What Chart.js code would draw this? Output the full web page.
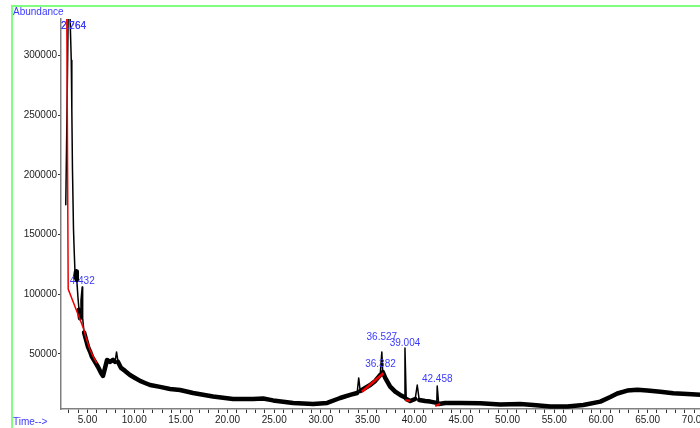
<!DOCTYPE html>
<html lang="en">
<head>
<meta charset="UTF-8" />
<title>TIC chromatogram</title>
<script src="https://cdn.jsdelivr.net/npm/chart.js@4.4.1/dist/chart.umd.min.js"></script>
<style>
  html, body { margin: 0; padding: 0; background: #fff; overflow: hidden; }
  #wrap { width: 700px; height: 428px; overflow: hidden; }
</style>
</head>
<body>
<div id="wrap"><canvas id="tic" width="730" height="428"></canvas></div>
<script>
// retention time (min) and abundance of the total ion trace
const traceTime = [
  2.67, 2.75, 2.87, 2.93, 3.12, 3.26, 3.32, 3.39, 3.50, 3.58,
  3.68, 3.77, 3.85, 3.98, 4.09, 4.20, 4.30, 4.43, 4.48, 4.63,
  4.84, 5.05, 5.27, 5.48, 5.80, 6.13, 6.45, 6.66, 6.88, 7.09,
  7.41, 7.73, 7.95, 8.11, 8.27, 8.59, 9.02, 9.55, 10.09, 10.63,
  11.16, 11.70, 12.77, 13.84, 14.91, 16.31, 18.45, 20.59, 22.74, 23.81,
  24.88, 27.03, 29.17, 30.67, 32.06, 33.13, 33.88, 34.05, 34.21, 34.74,
  35.28, 35.82, 36.35, 36.527, 36.62, 36.89, 37.42, 37.96, 38.49, 38.92,
  39.004, 39.14, 39.57, 40.10, 40.32, 40.53, 41.17, 41.71, 42.41, 42.458,
  42.62, 43.32, 44.93, 47.07, 49.21, 51.36, 52.75, 54.57, 56.40, 58.11,
  59.93, 61.00, 61.75, 62.82, 63.90, 64.97, 66.36, 67.75, 69.25, 70.65,
  72.00
]
const traceAbund = [
  175000, 221000, 296000, 335000, 335000, 296000, 254000, 204000, 154000, 135000,
  114000, 119000, 112000, 97000, 87000, 80000, 95000, 106000, 80000, 68000,
  62000, 56000, 52000, 47500, 43300, 39100, 34100, 31600, 38300, 45000,
  43300, 45000, 43300, 51700, 43300, 38300, 35800, 32400, 29900, 27400,
  25700, 24000, 22400, 20700, 19800, 17300, 14400, 12300, 12300, 12700,
  11100, 9000, 8100, 9000, 13100, 15700, 17300, 29900, 19000, 21500,
  24000, 27400, 32400, 51700, 34900, 29900, 22600, 18400, 15700, 14000,
  55000, 12300, 10600, 12300, 24000, 11500, 10600, 10100, 9000, 23200,
  8100, 9000, 9000, 8700, 7700, 8100, 7300, 6000, 5900, 7300,
  10100, 14000, 16900, 19300, 20100, 19300, 18400, 17100, 16500, 15900,
  15700
]

// integration baselines (red)
const base1Time = [2.78, 2.93, 4.55, 4.84, 5.27, 5.70, 6.00]
const base1Abund = [335000, 104400, 71800, 63500, 53500, 46500, 42200]
const base2Time = [34.39, 36.70]
const base2Abund = [18400, 33800]
const base3Time = [39.03, 39.57]
const base3Abund = [11500, 10600]
const base4Time = [42.24, 42.78]
const base4Abund = [6400, 8100]

// peak labels and the abundance they sit at
const peakLabels = ['2.264', '2.764', '4.432', '36.382', '36.527', '39.004', '42.458']
const peakLabelAbund = [324100, 324100, 111100, 41400, 64000, 59000, 28800]

const xTickLabels = ['5.00', '10.00', '15.00', '20.00', '25.00', '30.00', '35.00',
  '40.00', '45.00', '50.00', '55.00', '60.00', '65.00', '70.00']
const yTickLabels = ['50000', '100000', '150000', '200000', '250000', '300000']

const xMin = 2.16, xMax = 72
const yMin = 3900, yMax = 330500

const FONT = '"Liberation Sans", Arial, sans-serif'
const BLUE = '#3a3aff'

function pts(ts, as) {
  return ts.map((t, i) => ({ x: t, y: as[i] }))
}

const frameAndText = {
  id: 'frameAndText',
  beforeDraw(chart) {
    const c = chart.ctx
    c.save()
    c.fillStyle = '#fff'
    c.fillRect(0, 0, chart.width, chart.height)
    c.fillStyle = '#80ff80'
    c.fillRect(12, 5, chart.width, 2)
    c.fillRect(11, 5, 2, chart.height)
    c.restore()
  },
  afterDraw(chart) {
    const c = chart.ctx
    const area = chart.chartArea
    const xs = chart.scales.x
    const ys = chart.scales.y
    c.save()
    c.font = '10px ' + FONT
    c.fillStyle = BLUE
    c.textBaseline = 'middle'
    c.textAlign = 'left'
    c.fillText('Abundance', 13, 12.5)
    c.fillText('Time-->', 13, 422)
    peakLabels.forEach((lab, i) => {
      const w = c.measureText(lab).width
      let px = xs.getPixelForValue(parseFloat(lab)) - w / 2
      px = Math.max(px, area.left)
      c.fillText(lab, px, ys.getPixelForValue(peakLabelAbund[i]))
    })
    c.restore()
  }
}

new Chart(document.getElementById('tic'), {
  type: 'line',
  data: {
    datasets: [
      { data: pts(base1Time, base1Abund), borderColor: '#ee0000', borderWidth: 1.5, order: 0 },
      { data: pts(base2Time, base2Abund), borderColor: '#ee0000', borderWidth: 2.5, order: 0 },
      { data: pts(base3Time, base3Abund), borderColor: '#ee0000', borderWidth: 2, order: 0 },
      { data: pts(base4Time, base4Abund), borderColor: '#ee0000', borderWidth: 2, order: 0 },
      {
        data: pts(traceTime, traceAbund),
        borderColor: '#000',
        borderWidth: 4.5,
        borderCapStyle: 'round',
        borderJoinStyle: 'round',
        order: 1,
        segment: {
          // spikes are thin, the noisy baseline is a thick band
          borderWidth: ctx => {
            const dx = Math.abs(ctx.p1.x - ctx.p0.x)
            const dy = Math.abs(ctx.p1.y - ctx.p0.y)
            return dx < 2.5 && dy > 10 ? 1.5 : 4.5
          }
        }
      }
    ]
  },
  options: {
    responsive: false,
    animation: false,
    devicePixelRatio: 1,
    layout: { padding: { left: 0, top: 19, right: 17, bottom: 0 } },
    elements: { point: { radius: 0 }, line: { tension: 0 } },
    datasets: { line: { clip: 0 } },
    plugins: { legend: { display: false }, tooltip: { enabled: false } },
    scales: {
      x: {
        type: 'linear',
        min: xMin,
        max: xMax,
        afterBuildTicks: s => {
          const ticks = []
          for (let v = Math.ceil(xMin); v <= xMax; v++) ticks.push({ value: v })
          s.ticks = ticks
        },
        afterFit: s => { s.height = 19 },
        ticks: {
          autoSkip: false,
          maxRotation: 0,
          padding: 1,
          color: '#222',
          font: { family: FONT, size: 10 },
          callback: v => (xTickLabels.includes(v.toFixed(2)) ? v.toFixed(2) : '')
        },
        grid: { drawOnChartArea: false, tickLength: 4, color: '#333' },
        border: { color: '#808080', width: 1.5 }
      },
      y: {
        min: yMin,
        max: yMax,
        afterBuildTicks: s => {
          s.ticks = yTickLabels.map(l => ({ value: Number(l) }))
        },
        afterFit: s => { s.width = 61 },
        ticks: {
          autoSkip: false,
          padding: 1,
          color: '#222',
          font: { family: FONT, size: 10 },
          callback: v => String(v)
        },
        grid: { drawOnChartArea: false, tickLength: 3, color: '#333' },
        border: { color: '#808080', width: 1.5 }
      }
    }
  },
  plugins: [frameAndText]
})
</script>
</body>
</html>
